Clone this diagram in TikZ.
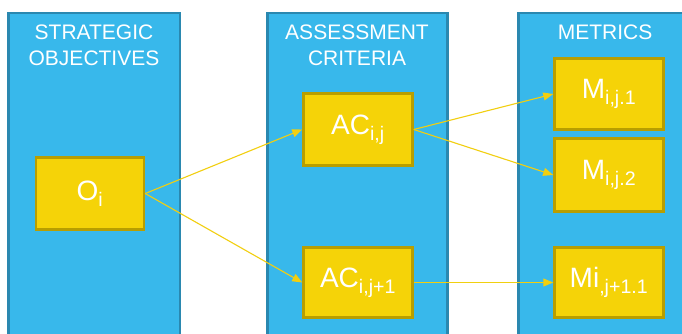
\documentclass[tikz,border=0pt]{standalone}
\usepackage{fontspec}
\setmainfont{Liberation Sans}
\usetikzlibrary{arrows.meta}
\definecolor{colfill}{HTML}{38B8EB}
\definecolor{colline}{HTML}{2A88B0}
\definecolor{boxfill}{HTML}{F5D308}
\definecolor{boxline}{HTML}{B89E00}
\definecolor{arrowc}{HTML}{F2CF10}
\tikzset{
  column/.style={draw=colline, fill=colfill, line width=2.5pt},
  head/.style={text=white, font=\fontsize{21}{26}\selectfont, align=center},
  item/.style={draw=boxline, fill=boxfill, line width=2.5pt, text=white,
    font=\fontsize{28}{30}\selectfont, inner sep=0pt},
  link/.style={draw=arrowc, line width=1.1pt, -{Triangle[length=10pt,width=8pt]}}
}
\begin{document}
\begin{tikzpicture}[x=1pt,y=1pt]
\useasboundingbox (0,0) rectangle (682,333);
\clip (0,0) rectangle (682,333);
\fill[white] (0,0) rectangle (682,333);
% columns
\path[column] (8.5,-10) rectangle (180,320);
\path[column] (267.5,-10) rectangle (447.5,320);
\path[column] (518.5,-10) rectangle (700,320);
% headers
\node[head] (h1) at (94,288) {STRATEGIC\\OBJECTIVES};
\node[head] (h2) at (357,288) {ASSESSMENT\\CRITERIA};
\node[head] (h3) at (605,301) {METRICS};
% boxes
\node[item, minimum width=108pt, minimum height=72pt] (o) at (90,139.5) {O\textsubscript{i}};
\node[item, minimum width=109pt, minimum height=72pt] (ac1) at (358,203.5) {AC\textsubscript{i,j}};
\node[item, minimum width=109pt, minimum height=70pt] (ac2) at (358,50.5) {AC\textsubscript{i,j+1}};
\node[item, minimum width=109pt, minimum height=71pt] (m1) at (609,239) {M\textsubscript{i,j.1}};
\node[item, minimum width=109pt, minimum height=73pt] (m2) at (609,158) {M\textsubscript{i,j.2}};
\node[item, minimum width=109pt, minimum height=70pt] (m3) at (609,50.5) {Mi\textsubscript{,j+1.1}};
% links
\draw[link] (o.east) -- (ac1.west);
\draw[link] (o.east) -- (ac2.west);
\draw[link] (ac1.east) -- (m1.west);
\draw[link] (ac1.east) -- (m2.west);
\draw[link] (ac2.east) -- (m3.west);
\end{tikzpicture}
\end{document}
